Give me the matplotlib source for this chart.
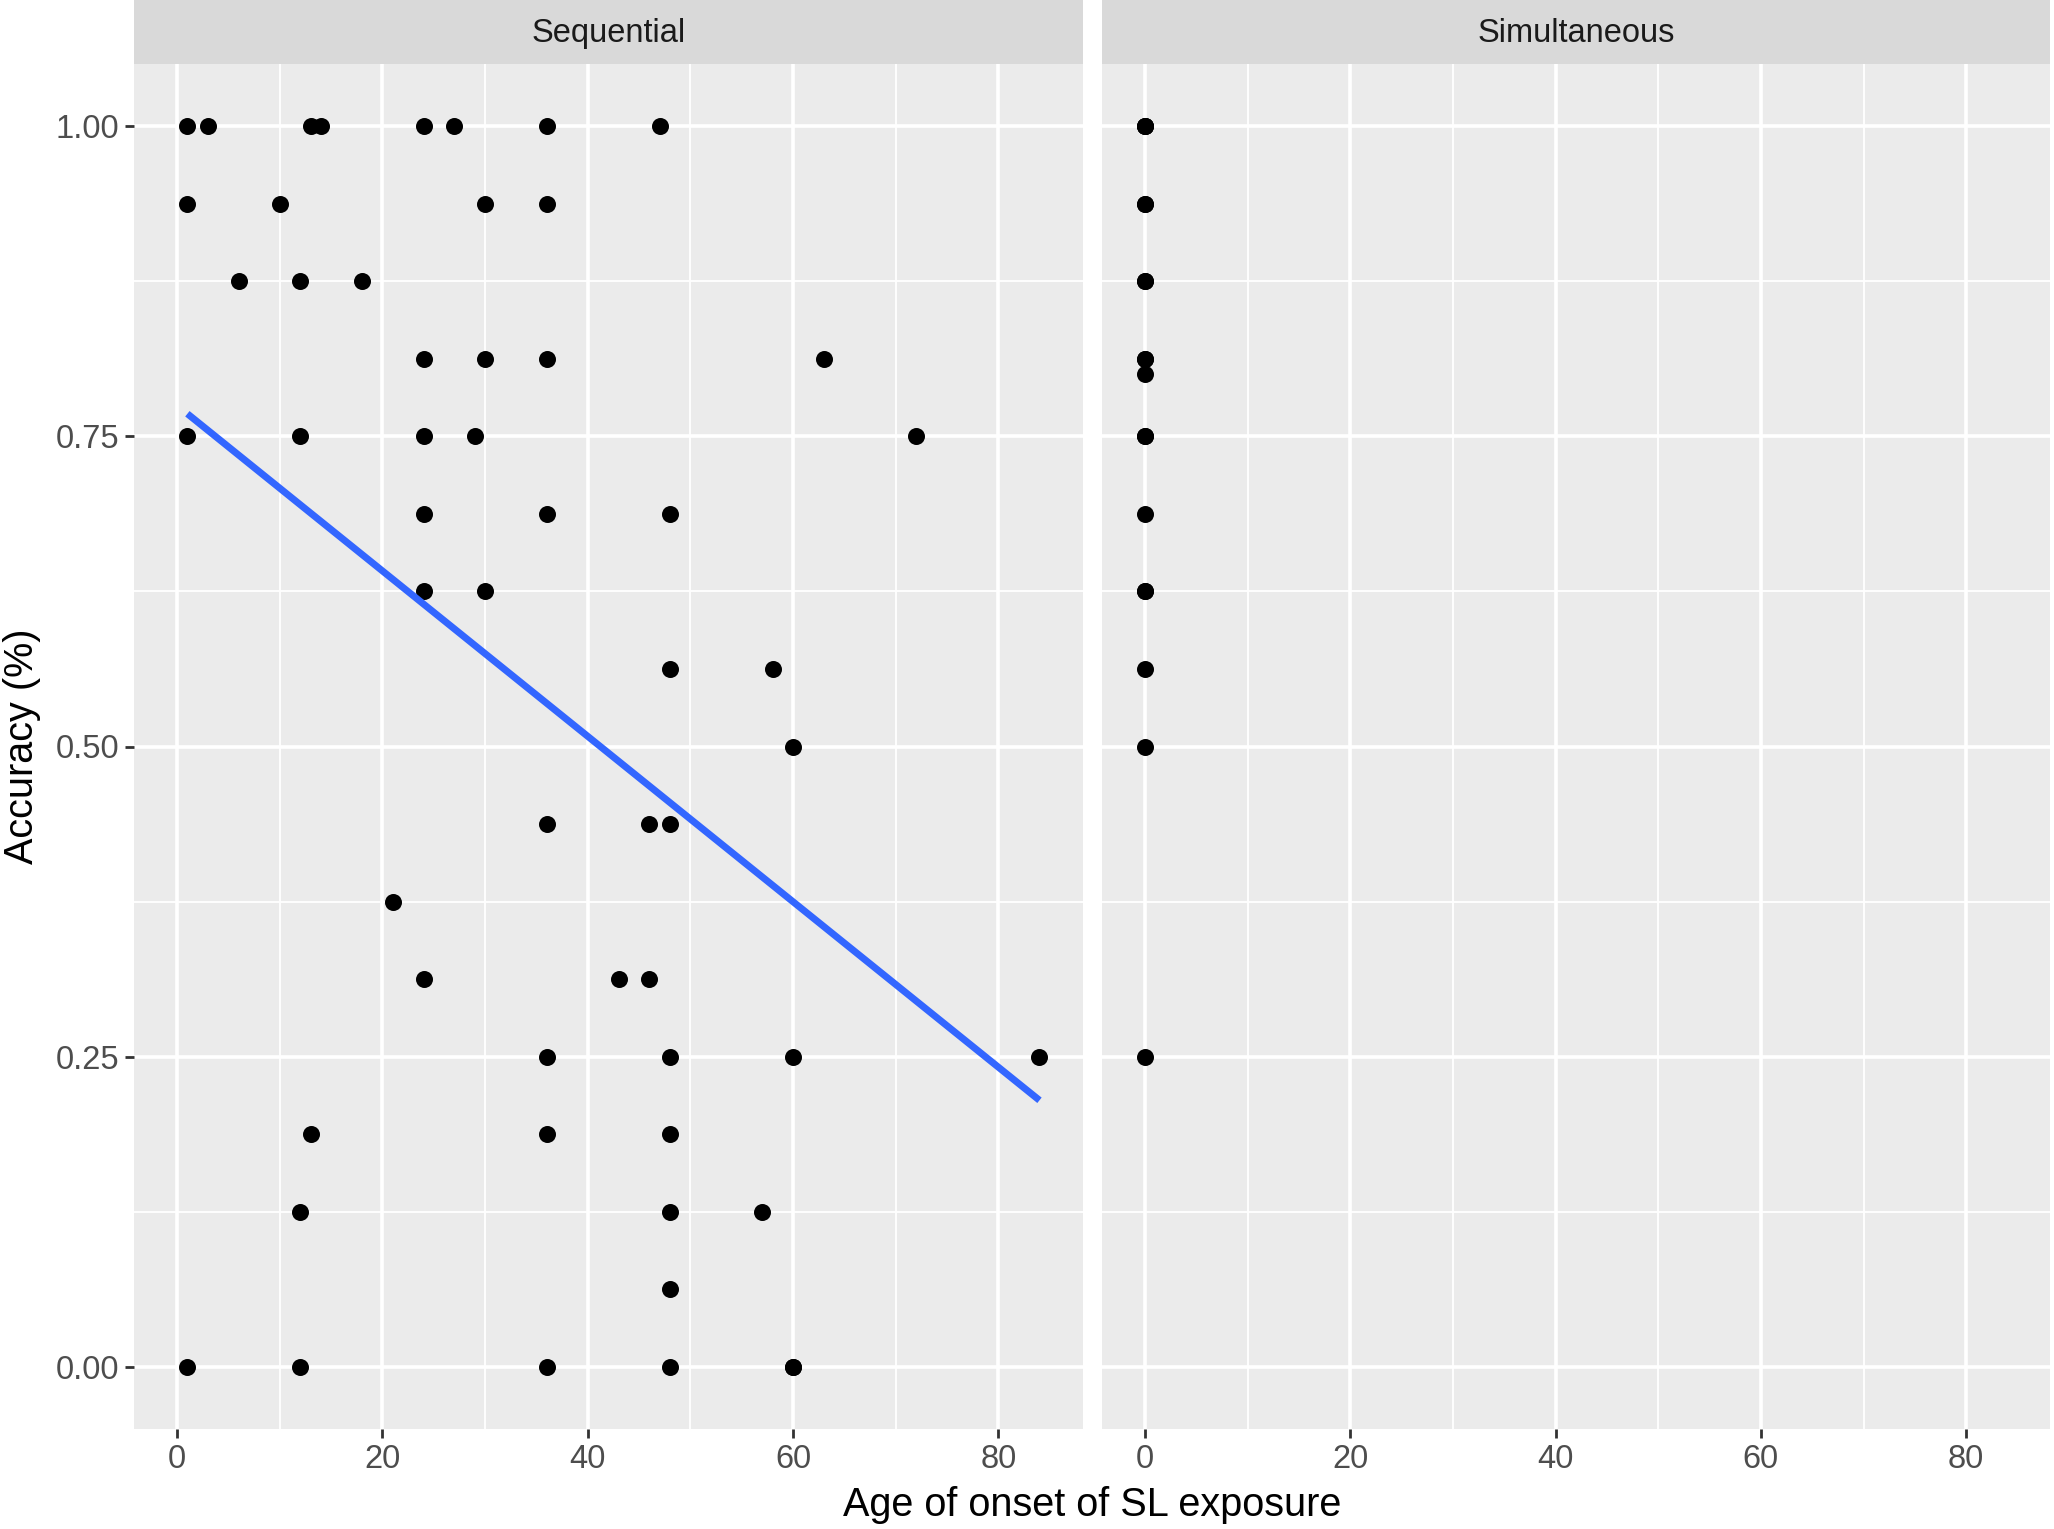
import matplotlib.pyplot as plt
import numpy as np

plt.rcParams['font.family'] = ['Liberation Sans', 'DejaVu Sans']

# Data (accuracy in steps of 1/16)
seq_age = [1, 3, 13, 14, 24, 27, 36, 47,
           1, 10, 30, 36,
           6, 12, 18,
           24, 30, 36, 63,
           1, 12, 24, 29, 72,
           24, 36, 48,
           24, 30,
           48, 58,
           60,
           36, 46, 48,
           21,
           24, 43, 46,
           36, 48, 60, 84,
           13, 36, 48,
           12, 48, 57,
           48,
           1, 12, 36, 48, 60, 60]
seq_acc = [1.0] * 8 + [0.9375] * 4 + [0.875] * 3 + [0.8125] * 4 + [0.75] * 5 \
    + [0.6875] * 3 + [0.625] * 2 + [0.5625] * 2 + [0.5] + [0.4375] * 3 \
    + [0.375] + [0.3125] * 3 + [0.25] * 4 + [0.1875] * 3 + [0.125] * 3 \
    + [0.0625] + [0.0] * 6

sim_acc = [1.0, 1.0, 1.0, 0.9375, 0.9375, 0.875, 0.875, 0.8125, 0.8125, 0.8,
           0.75, 0.75, 0.6875, 0.625, 0.625, 0.5625, 0.5, 0.25]
sim_age = [0] * len(sim_acc)

panels = ['Sequential', 'Simultaneous']

W, H = 2054, 1529
fig = plt.figure(figsize=(W / 100, H / 100), dpi=100)
fig.patch.set_facecolor('white')

bottom = 100 / H
top = 1465 / H
lefts = [134 / W, 1101.8 / W]
width = (1082.6 - 134) / W

panel_bg = '#EBEBEB'
strip_bg = '#D9D9D9'

for i, name in enumerate(panels):
    ax = fig.add_axes([lefts[i], bottom, width, top - bottom])
    ax.set_facecolor(panel_bg)
    for s in ax.spines.values():
        s.set_visible(False)
    ax.set_xlim(-4.2, 88.2)
    ax.set_ylim(-0.05, 1.05)
    ax.set_xticks([0, 20, 40, 60, 80])
    ax.set_xticks([10, 30, 50, 70], minor=True)
    ax.set_yticks([0, 0.25, 0.5, 0.75, 1.0])
    ax.set_yticks([0.125, 0.375, 0.625, 0.875], minor=True)
    ax.grid(True, which='major', color='white', linewidth=2.6)
    ax.grid(True, which='minor', color='white', linewidth=1.3)
    ax.set_axisbelow(True)
    ax.tick_params(which='minor', length=0)
    ax.tick_params(which='major', length=6.5, width=2.0, color='#333333',
                   labelsize=23.5, labelcolor='#4D4D4D', pad=4)
    if i == 0:
        ax.set_yticklabels(['0.00', '0.25', '0.50', '0.75', '1.00'])
        ax.scatter(seq_age, seq_acc, s=150, color='black', zorder=3, linewidths=0)
        coef = np.polyfit(seq_age, seq_acc, 1)
        xs = np.array([min(seq_age), max(seq_age)])
        ax.plot(xs, np.polyval(coef, xs), color='#3366FF', linewidth=5.0, zorder=4,
                solid_capstyle='butt')
    else:
        ax.tick_params(axis='y', which='both', left=False, labelleft=False)
        ax.scatter(sim_age, sim_acc, s=150, color='black', zorder=3, linewidths=0)

    # facet strip
    sax = fig.add_axes([lefts[i], top, width, 1 - top])
    sax.set_facecolor(strip_bg)
    sax.set_xticks([])
    sax.set_yticks([])
    for s in sax.spines.values():
        s.set_visible(False)
    sax.text(0.5, 0.47, name, ha='center', va='center', fontsize=23.5,
             color='#1A1A1A', transform=sax.transAxes)

fig.text((134 + 2050) / 2 / W, 1 - 1505 / H, 'Age of onset of SL exposure',
         ha='center', va='center', fontsize=28.5)
fig.text(22 / W, (bottom + top) / 2, 'Accuracy (%)', ha='center', va='center',
         rotation=90, fontsize=28.5)

fig.savefig('out.png', dpi=100)
